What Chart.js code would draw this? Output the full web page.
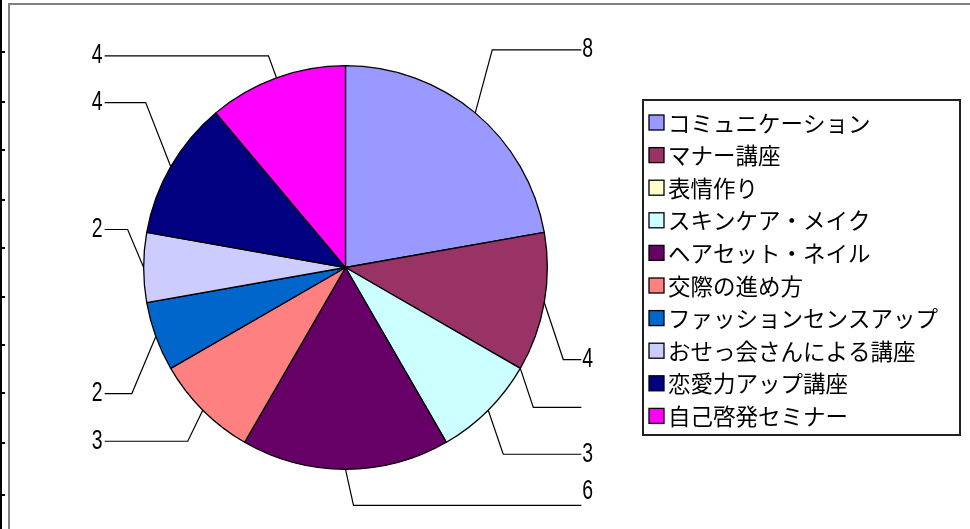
<!DOCTYPE html>
<html>
<head>
<meta charset="utf-8">
<script src="https://cdn.jsdelivr.net/npm/chart.js@4/dist/chart.umd.min.js"></script>
<style>
  body { margin: 0; background: #fff; width: 970px; height: 529px; overflow: hidden; position: relative; }
  .edge { position: absolute; background: #000; }
  .frame { position: absolute; background: #808080; }
  #box { position: absolute; left: 10px; top: 5px; width: 960px; height: 524px; }
</style>
</head>
<body>
<div class="edge" style="left:0;top:0;width:2px;height:529px"></div>
<div class="frame" style="left:8px;top:3px;width:2px;height:526px"></div>
<div class="frame" style="left:8px;top:3px;width:962px;height:2px"></div>
<div id="box"><canvas id="myChart"></canvas></div>
<script>
const categories = [
    'コミュニケーション', 'マナー講座', '表情作り', 'スキンケア・メイク', 'ヘアセット・ネイル',
    '交際の進め方', 'ファッションセンスアップ', 'おせっ会さんによる講座', '恋愛力アップ講座', '自己啓発セミナー'
];
const counts = [8, 4, 0, 3, 6, 3, 2, 2, 4, 4];
const sliceColors = [
    '#9999FF', '#993366', '#FFFFCC', '#CCFFFF', '#660066',
    '#FF8080', '#0066CC', '#CCCCFF', '#000080', '#FF00FF'
];

// spreadsheet row marks on the far left
[52, 102, 150, 200, 248, 297, 345, 393, 443, 495].forEach((y) => {
    const d = document.createElement('div');
    d.className = 'edge';
    d.style.cssText = `left:0;top:${y - 1}px;width:5px;height:2px`;
    document.body.appendChild(d);
});

// bend of each leader line, offset from where it leaves the pie
const bends = [[17, -63], [19, 57], [13, 39], [15, 44], [8, 36], [-15, 31], [-24, 57], [-16, -38], [-25, -64], [-8, -22]];

const leaderLabels = {
    id: 'leaderLabels',
    afterDatasetsDraw(chart) {
        const ctx = chart.ctx;
        const arcs = chart.getDatasetMeta(0).data;
        const values = chart.data.datasets[0].data;
        ctx.save();
        ctx.strokeStyle = '#000';
        ctx.lineWidth = 1.2;
        ctx.fillStyle = '#000';
        ctx.font = '27px "Liberation Sans"';
        ctx.textBaseline = 'middle';
        arcs.forEach((arc, i) => {
            const { x, y, startAngle, endAngle, outerRadius } = arc.getProps(['x', 'y', 'startAngle', 'endAngle', 'outerRadius'], true);
            const mid = (startAngle + endAngle) / 2;
            const ex = x + outerRadius * Math.cos(mid);
            const ey = y + outerRadius * Math.sin(mid);
            const bx = ex + bends[i][0];
            const by = ey + bends[i][1];
            const right = bends[i][0] > 0;
            const endX = right ? x + outerRadius + 34 : x - outerRadius - 39;
            ctx.beginPath();
            ctx.moveTo(ex, ey);
            ctx.lineTo(bx, by);
            ctx.lineTo(endX, by);
            ctx.stroke();
            if (values[i] === 0) return;
            const txt = String(values[i]);
            const ty = (i === 4) ? by - 14 : by;
            ctx.save();
            ctx.translate(right ? endX + 1 : endX - 2, ty);
            ctx.scale(0.72, 1);
            ctx.textAlign = right ? 'left' : 'right';
            ctx.fillText(txt, 0, 0);
            ctx.restore();
        });
        ctx.restore();
    }
};

const boxedLegend = {
    id: 'boxedLegend',
    afterDraw(chart) {
        const ctx = chart.ctx;
        const ds = chart.data.datasets[0];
        const left = 633, top = 95, w = 317, h = 335;
        const rowTop = 117, rowStep = 32.6;
        ctx.save();
        ctx.strokeStyle = '#222';
        ctx.lineWidth = 2;
        ctx.strokeRect(left, top, w, h);
        ctx.font = '22.5px "Noto Sans CJK JP"';
        ctx.textBaseline = 'middle';
        ctx.textAlign = 'left';
        chart.data.labels.forEach((label, i) => {
            const cy = rowTop + i * rowStep;
            ctx.fillStyle = ds.backgroundColor[i];
            ctx.fillRect(left + 6, cy - 7, 15, 15);
            ctx.lineWidth = 1.3;
            ctx.strokeStyle = '#000';
            ctx.strokeRect(left + 6, cy - 7, 15, 15);
            ctx.fillStyle = '#000';
            ctx.fillText(label, left + 25, cy + 1);
        });
        ctx.restore();
    }
};

const main = () => {
    const config = {
        type: 'pie',
        data: {
            labels: categories,
            datasets: [{
                data: counts,
                backgroundColor: sliceColors,
                borderColor: '#000',
                borderWidth: 1.3
            }]
        },
        options: {
            responsive: true,
            maintainAspectRatio: false,
            animation: false,
            layout: { padding: { left: 133, right: 422, top: 60, bottom: 59 } },
            plugins: {
                legend: { display: false },
                tooltip: { enabled: false }
            }
        },
        plugins: [leaderLabels, boxedLegend]
    };

    new Chart(document.getElementById('myChart'), config);
}

window.onload = () => main()
</script>
</body>
</html>
